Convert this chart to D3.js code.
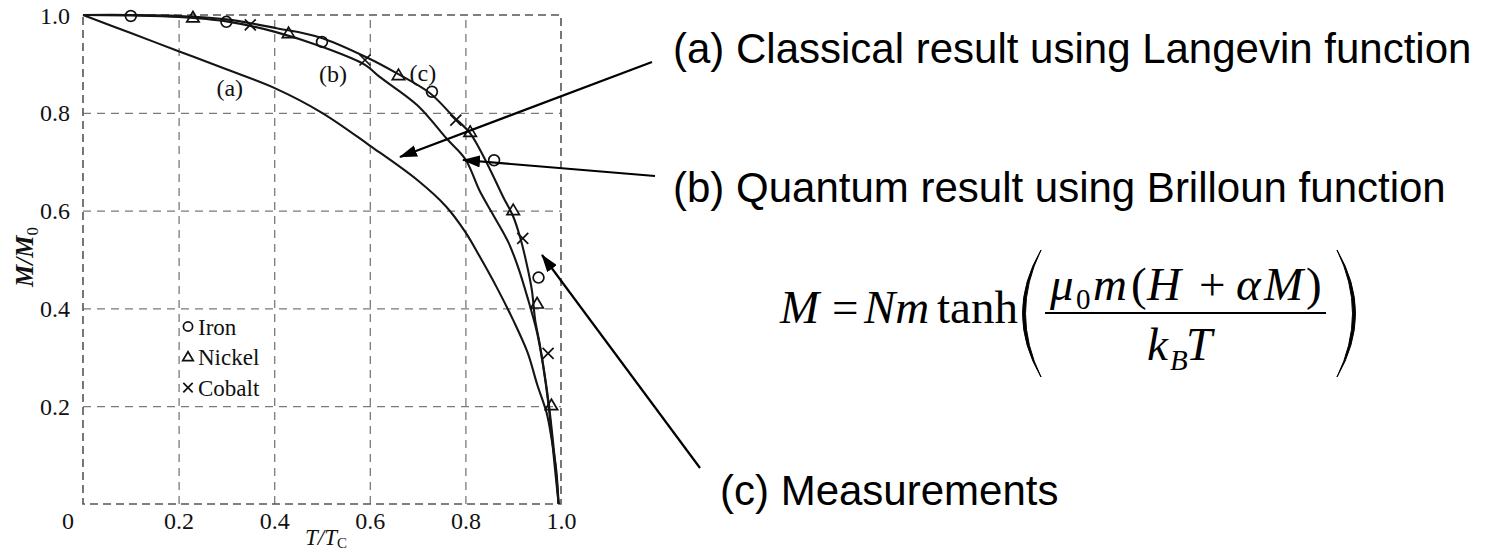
<!DOCTYPE html>
<html>
<head>
<meta charset="utf-8">
<script src="https://cdn.jsdelivr.net/npm/d3@7"></script>
<style>
  html, body { margin: 0; padding: 0; background: #fff; }
  svg { display: block; }
</style>
</head>
<body>
<svg id="chart" width="1487" height="551"></svg>
<script>
// Spontaneous magnetisation M/M0 against reduced temperature T/Tc

// axis ticks
const xTickValues = [0.2, 0.4, 0.6, 0.8, 1.0];
const xTickLabels = ["0.2", "0.4", "0.6", "0.8", "1.0"];
const yTickValues = [0.2, 0.4, 0.6, 0.8, 1.0];
const yTickLabels = ["0.2", "0.4", "0.6", "0.8", "1.0"];

// (a) classical curve (Langevin)
const langevinT = [0, 0.1, 0.2, 0.3, 0.4, 0.5, 0.6, 0.7, 0.76, 0.8, 0.83, 0.865, 0.9, 0.93, 0.95, 0.97, 0.98, 0.99, 0.995];
const langevinM = [1, 0.963, 0.926, 0.889, 0.851, 0.80, 0.733, 0.662, 0.608, 0.556, 0.506, 0.444, 0.376, 0.31, 0.245, 0.186, 0.135, 0.07, 0];

// (b) quantum curve (Brillouin), inner
const brillouinT = [0, 0.1, 0.2, 0.3, 0.4, 0.5, 0.59, 0.62, 0.70, 0.76, 0.80, 0.83, 0.86, 0.89, 0.91, 0.93, 0.95, 0.963, 0.973, 0.98, 0.987, 0.995];
const brillouinM = [1, 0.999, 0.996, 0.987, 0.966, 0.935, 0.898, 0.874, 0.815, 0.748, 0.705, 0.64, 0.588, 0.535, 0.485, 0.422, 0.35, 0.28, 0.21, 0.145, 0.076, 0];

// (c) outer curve through the measurements
const outerT = [0, 0.1, 0.2, 0.3, 0.405, 0.496, 0.594, 0.656, 0.726, 0.775, 0.81, 0.845, 0.879, 0.90, 0.914, 0.928, 0.939, 0.946, 0.955, 0.965, 0.975, 0.983, 0.99, 0.995];
const outerM = [1, 1.0, 0.998, 0.991, 0.973, 0.954, 0.913, 0.881, 0.840, 0.792, 0.758, 0.697, 0.628, 0.588, 0.547, 0.492, 0.438, 0.376, 0.33, 0.27, 0.20, 0.13, 0.06, 0];

// measurements
const ironT = [0.10, 0.30, 0.50, 0.73, 0.86, 0.953];
const ironM = [0.998, 0.986, 0.945, 0.843, 0.703, 0.463];
const nickelT = [0.23, 0.43, 0.66, 0.81, 0.90, 0.95, 0.98];
const nickelM = [0.995, 0.963, 0.877, 0.761, 0.601, 0.41, 0.202];
const cobaltT = [0.35, 0.59, 0.78, 0.92, 0.973];
const cobaltM = [0.98, 0.908, 0.785, 0.543, 0.308];

const legendNames = ["Iron", "Nickel", "Cobalt"];
const curveTags = ["(a)", "(b)", "(c)"];
const notes = [
  "(a) Classical result using Langevin function",
  "(b) Quantum result using Brilloun function",
  "(c) Measurements"
];

const serif = "'Liberation Serif', 'Times New Roman', serif";
const sans = "'Liberation Sans', Arial, Helvetica, sans-serif";
const ink = "#111";

const svg = d3.select("#chart");

const x = d3.scaleLinear().domain([0, 1]).range([83, 561]);
const y = d3.scaleLinear().domain([0, 1]).range([504, 15]);

const plot = svg.append("g");

// dashed grid
const gridX = d3.axisBottom(x).tickValues([0.2, 0.4, 0.6, 0.8]).tickSize(-(y(0) - y(1))).tickFormat("");
plot.append("g").attr("transform", `translate(0,${y(0)})`).call(gridX)
  .call(g => g.select(".domain").remove())
  .selectAll("line").attr("stroke", "#7a7a7a").attr("stroke-width", 1.3).attr("stroke-dasharray", "8,6");
const gridY = d3.axisLeft(y).tickValues([0.2, 0.4, 0.6, 0.8]).tickSize(-(x(1) - x(0))).tickFormat("");
plot.append("g").attr("transform", `translate(${x(0)},0)`).call(gridY)
  .call(g => g.select(".domain").remove())
  .selectAll("line").attr("stroke", "#7a7a7a").attr("stroke-width", 1.3).attr("stroke-dasharray", "8,6");

// dashed frame
plot.append("rect")
  .attr("x", x(0)).attr("y", y(1))
  .attr("width", x(1) - x(0)).attr("height", y(0) - y(1))
  .attr("fill", "none").attr("stroke", "#555").attr("stroke-width", 1.6)
  .attr("stroke-dasharray", "8,5");

// tick labels
const xAxis = d3.axisBottom(x).tickValues(xTickValues).tickSize(0).tickPadding(0)
  .tickFormat((d, i) => xTickLabels[i]);
const xg = svg.append("g").attr("transform", `translate(0,${y(0)})`).call(xAxis);
xg.select(".domain").remove();
xg.selectAll("text").attr("font-family", serif).attr("font-size", 24).attr("fill", ink)
  .attr("dy", null).attr("y", 25);
svg.append("text").attr("x", 68).attr("y", y(0) + 25)
  .attr("text-anchor", "middle").attr("font-family", serif).attr("font-size", 24).attr("fill", ink)
  .text("0");

const yAxis = d3.axisLeft(y).tickValues(yTickValues).tickSize(0).tickPadding(13)
  .tickFormat((d, i) => yTickLabels[i]);
const yg = svg.append("g").attr("transform", `translate(${x(0)},0)`).call(yAxis);
yg.select(".domain").remove();
yg.selectAll("text").attr("font-family", serif).attr("font-size", 24).attr("fill", ink)
  .attr("dy", "0.34em");

// axis titles
const xt = svg.append("text").attr("x", 326).attr("y", 545)
  .attr("text-anchor", "middle").attr("font-family", serif).attr("font-size", 23)
  .attr("font-style", "italic").attr("fill", ink);
xt.append("tspan").text("T/T");
xt.append("tspan").attr("font-size", 15).attr("font-style", "normal").attr("dy", 3).text("C");

const yt = svg.append("text").attr("transform", "translate(33,257) rotate(-90)")
  .attr("text-anchor", "middle").attr("font-family", serif).attr("font-size", 25)
  .attr("font-style", "italic").attr("font-weight", "bold").attr("fill", ink);
yt.append("tspan").text("M/M");
yt.append("tspan").attr("font-size", 17).attr("font-style", "normal").attr("font-weight", "normal").attr("dy", 5).text("0");

// curves
const line = d3.line().x(d => x(d[0])).y(d => y(d[1])).curve(d3.curveCatmullRom.alpha(0.5));
const zipT = (ts, ms) => ts.map((t, i) => [t, ms[i]]);
[[langevinT, langevinM], [brillouinT, brillouinM], [outerT, outerM]].forEach(([ts, ms]) => {
  plot.append("path").datum(zipT(ts, ms))
    .attr("d", line).attr("fill", "none").attr("stroke", "#151515").attr("stroke-width", 2.1);
});

// markers
const sym = {
  circle: (g, cx, cy, s) => g.append("circle").attr("cx", cx).attr("cy", cy).attr("r", 5.4 * s)
    .attr("fill", "none").attr("stroke", ink).attr("stroke-width", 1.7),
  triangle: (g, cx, cy, s) => g.append("path")
    .attr("d", `M${cx},${cy - 6 * s} L${cx + 6.2 * s},${cy + 4.5 * s} L${cx - 6.2 * s},${cy + 4.5 * s} Z`)
    .attr("fill", "none").attr("stroke", ink).attr("stroke-width", 1.7),
  cross: (g, cx, cy, s) => g.append("path")
    .attr("d", `M${cx - 5.5 * s},${cy - 5.5 * s} L${cx + 5.5 * s},${cy + 5.5 * s} M${cx + 5.5 * s},${cy - 5.5 * s} L${cx - 5.5 * s},${cy + 5.5 * s}`)
    .attr("fill", "none").attr("stroke", ink).attr("stroke-width", 1.7)
};
const marks = plot.append("g");
ironT.forEach((t, i) => sym.circle(marks, x(t), y(ironM[i]), 1));
nickelT.forEach((t, i) => sym.triangle(marks, x(t), y(nickelM[i]), 1));
cobaltT.forEach((t, i) => sym.cross(marks, x(t), y(cobaltM[i]), 1));

// curve tags
const tagPos = [[0.307, 0.851], [0.523, 0.881], [0.711, 0.883]];
curveTags.forEach((s, i) => {
  svg.append("text").attr("x", x(tagPos[i][0])).attr("y", y(tagPos[i][1]))
    .attr("dy", "0.35em").attr("text-anchor", "middle")
    .attr("font-family", serif).attr("font-size", 24).attr("fill", ink).text(s);
});

// legend
const legendKinds = ["circle", "triangle", "cross"];
const legendY = [0.363, 0.301, 0.238];
legendNames.forEach((name, i) => {
  const cy = y(legendY[i]);
  sym[legendKinds[i]](svg, 188, cy, 0.85);
  svg.append("text").attr("x", 198).attr("y", cy).attr("dy", "0.35em")
    .attr("font-family", serif).attr("font-size", 23).attr("fill", ink).text(name);
});

// annotations with arrows
const defs = svg.append("defs");
defs.append("marker").attr("id", "head").attr("viewBox", "0 0 18 12")
  .attr("refX", 17).attr("refY", 6).attr("markerWidth", 18).attr("markerHeight", 12)
  .attr("markerUnits", "userSpaceOnUse").attr("orient", "auto")
  .append("path").attr("d", "M0,0 L18,6 L0,12 Z").attr("fill", "#000");

const arrows = [
  [652, 62, 400, 157],
  [655, 176, 463, 160],
  [700, 468, 542, 255]
];
arrows.forEach(a => {
  svg.append("line").attr("x1", a[0]).attr("y1", a[1]).attr("x2", a[2]).attr("y2", a[3])
    .attr("stroke", "#000").attr("stroke-width", 2.2).attr("marker-end", "url(#head)");
});

const noteXY = [[673, 63], [673, 202], [720, 505]];
notes.forEach((s, i) => {
  svg.append("text").attr("x", noteXY[i][0]).attr("y", noteXY[i][1])
    .attr("font-family", sans).attr("font-size", 42).attr("fill", "#000").text(s);
});

// mean-field equation
const eq = svg.append("g").attr("font-family", serif).attr("fill", "#000");
const fs = 47, sub = 29;
const it = (txt, xx, yy, size) => eq.append("text").attr("x", xx).attr("y", yy)
  .attr("font-size", size || fs).attr("font-style", "italic").text(txt);
const rm = (txt, xx, yy, size) => eq.append("text").attr("x", xx).attr("y", yy)
  .attr("font-size", size || fs).text(txt);

it("M", 780, 323);
rm("=", 832, 323);
it("Nm", 864, 323);
rm("tanh", 937, 323);

// numerator
it("μ", 1050, 300);
rm("0", 1076, 309, sub);
it("m", 1093, 300);
rm("(", 1131, 300);
it("H", 1147, 300);
rm("+", 1199, 300);
it("α", 1236, 300);
it("M", 1264, 300);
rm(")", 1306, 300);

// fraction bar
eq.append("line").attr("x1", 1045).attr("x2", 1326).attr("y1", 313).attr("y2", 313)
  .attr("stroke", "#000").attr("stroke-width", 2);

// denominator
it("k", 1147, 360);
it("B", 1170, 370, sub);
it("T", 1186, 360);

// tall parentheses
eq.append("path").attr("d", "M1041,250 Q1004,313.5 1041,377 Q1010,313.5 1041,250 Z")
  .attr("fill", "#000").attr("stroke", "#000").attr("stroke-width", 1);
eq.append("path").attr("d", "M1337,250 Q1374,313.5 1337,377 Q1368,313.5 1337,250 Z")
  .attr("fill", "#000").attr("stroke", "#000").attr("stroke-width", 1);
</script>
</body>
</html>
